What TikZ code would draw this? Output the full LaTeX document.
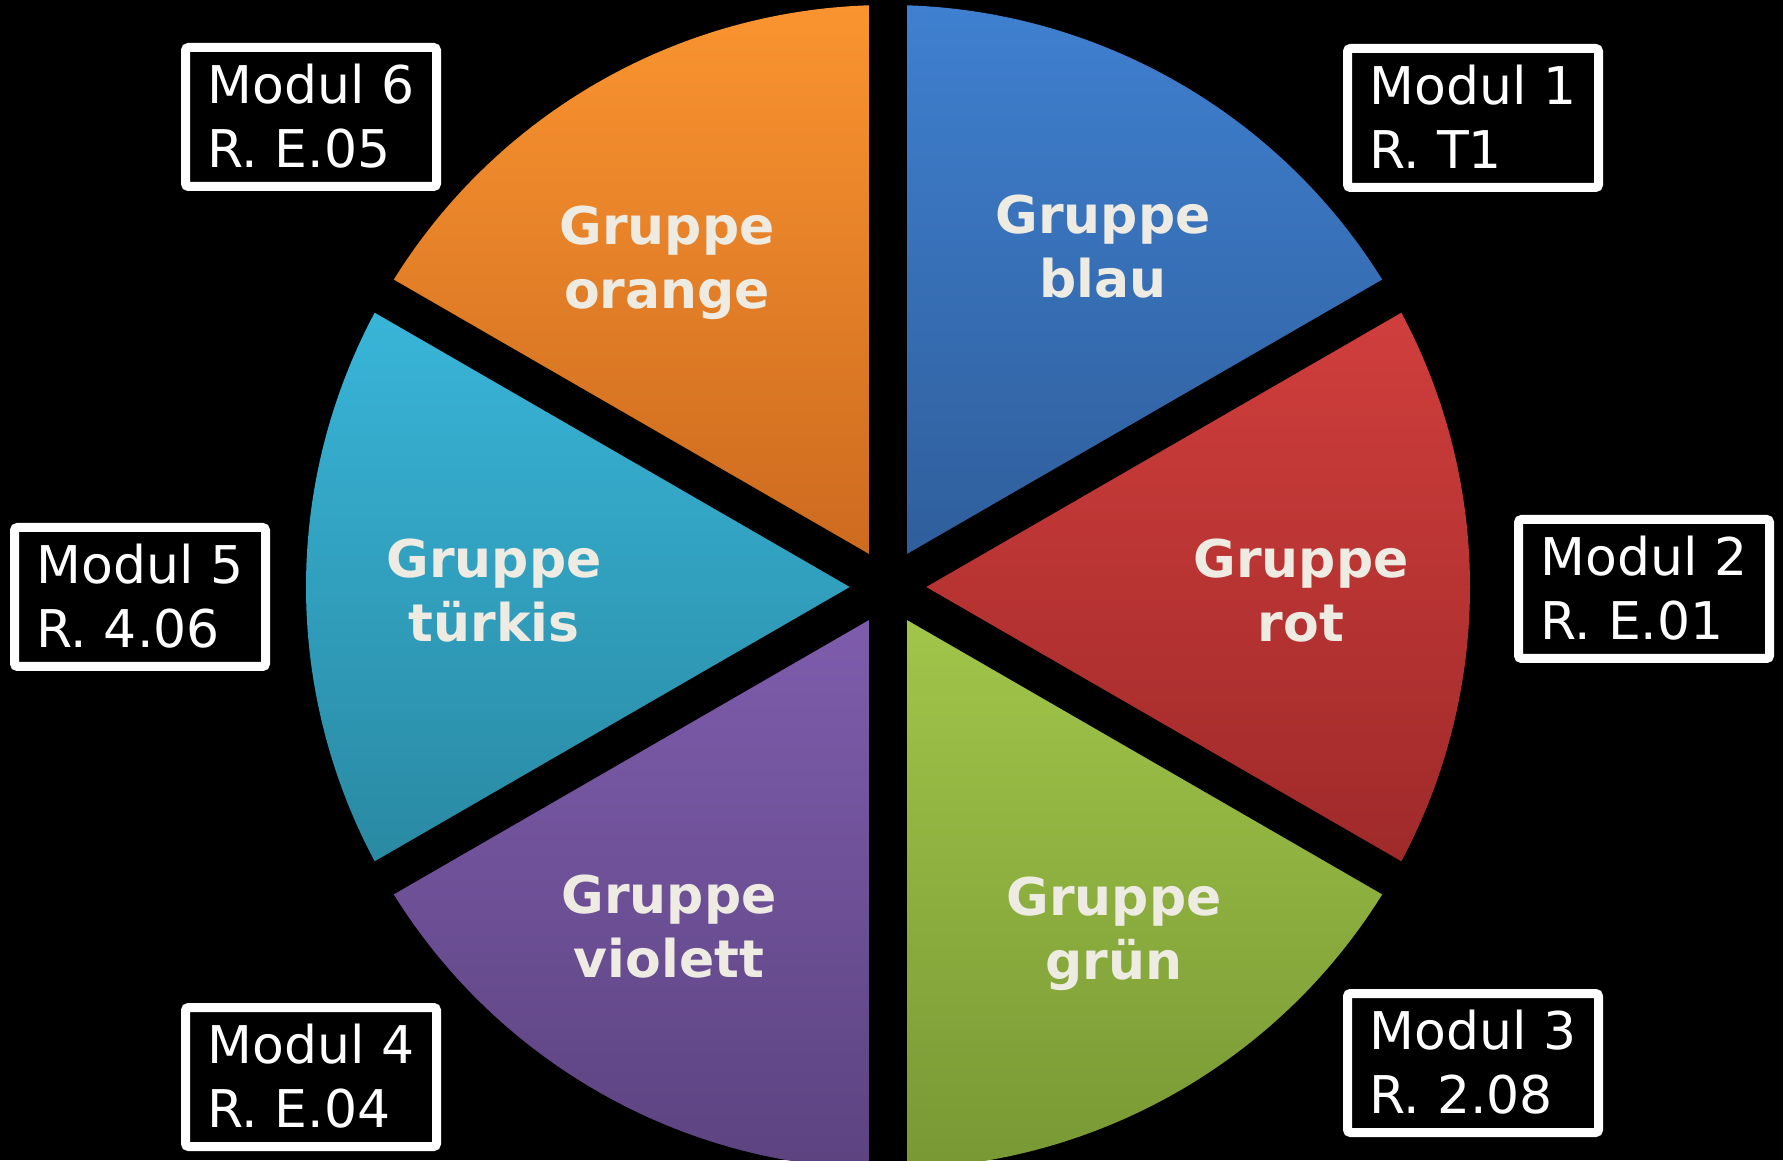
\documentclass[tikz,border=0pt]{standalone}
\usepackage{fontspec}
\setmainfont{DejaVu Sans}

\definecolor{blauHell}{HTML}{3F80D0}
\definecolor{blauDunkel}{HTML}{2E5C98}
\definecolor{orangeHell}{HTML}{FA9430}
\definecolor{orangeDunkel}{HTML}{CA681E}
\definecolor{tuerkisHell}{HTML}{39B6DA}
\definecolor{tuerkisDunkel}{HTML}{2988A1}
\definecolor{violettHell}{HTML}{805EAF}
\definecolor{violettDunkel}{HTML}{5C4380}
\definecolor{gruenHell}{HTML}{A3C84B}
\definecolor{gruenDunkel}{HTML}{789834}
\definecolor{rotHell}{HTML}{D13F3D}
\definecolor{rotDunkel}{HTML}{9E2929}
\definecolor{creme}{HTML}{EEEBE2}

\begin{document}
\begin{tikzpicture}[x=1pt,y=1pt,
    modul/.style={draw=white, line width=9pt, rounded corners=3pt,
      minimum width=251pt, minimum height=139pt, inner sep=0pt,
      align=left, text=white, font=\fontsize{52}{64}\selectfont,
      execute at begin node={\rule{0pt}{62pt}},
      execute at end node={\rule[-2pt]{0pt}{2pt}}},
    gruppe/.style={align=center, text=creme,
      font=\bfseries\fontsize{52}{64}\selectfont,
      execute at begin node={\rule{0pt}{45pt}},
      execute at end node={\rule[-19pt]{0pt}{19pt}}}]

    % Fondo negro
    \fill[black] (0,0) rectangle (1783,1160);
    \useasboundingbox (0,0) rectangle (1783,1160);

    % Centro del circulo
    \coordinate (C) at (888,573);

    % Dibujar los seis sectores con degradado
    \foreach \ang/\hell/\dunkel in {30/blauHell/blauDunkel, 90/orangeHell/orangeDunkel,
        150/tuerkisHell/tuerkisDunkel, 210/violettHell/violettDunkel,
        270/gruenHell/gruenDunkel, 330/rotHell/rotDunkel}
      \shade[top color=\hell, bottom color=\dunkel]
        (C) -- ++(\ang:582) arc[start angle=\ang, end angle=\ang+60, radius=582] -- cycle;

    % Separaciones negras entre los sectores
    \foreach \ang in {30,90,150}
      \draw[black, line width=38pt] (C) -- ++(\ang:620) (C) -- ++(\ang+180:620);

    % Etiquetas de los grupos
    \node[gruppe] (gblau) at (1103,904) {Gruppe\\blau};
    \node[gruppe] (grot) at (1301,560) {Gruppe\\rot};
    \node[gruppe] (ggruen) at (1114,222) {Gruppe\\grün};
    \node[gruppe] (gviolett) at (669,224) {Gruppe\\violett};
    \node[gruppe] (gtuerkis) at (494,560) {Gruppe\\türkis};
    \node[gruppe] (gorange) at (667,893) {Gruppe\\orange};

    % Cajas de los modulos
    \node[modul] (m1) at (1473,1042) {Modul 1\\R. T1};
    \node[modul] (m2) at (1644,571) {Modul 2\\R. E.01};
    \node[modul] (m3) at (1473,97) {Modul 3\\R. 2.08};
    \node[modul] (m4) at (311,83) {Modul 4\\R. E.04};
    \node[modul] (m5) at (140,563) {Modul 5\\R. 4.06};
    \node[modul] (m6) at (311,1043) {Modul 6\\R. E.05};
  \end{tikzpicture}
\end{document}
